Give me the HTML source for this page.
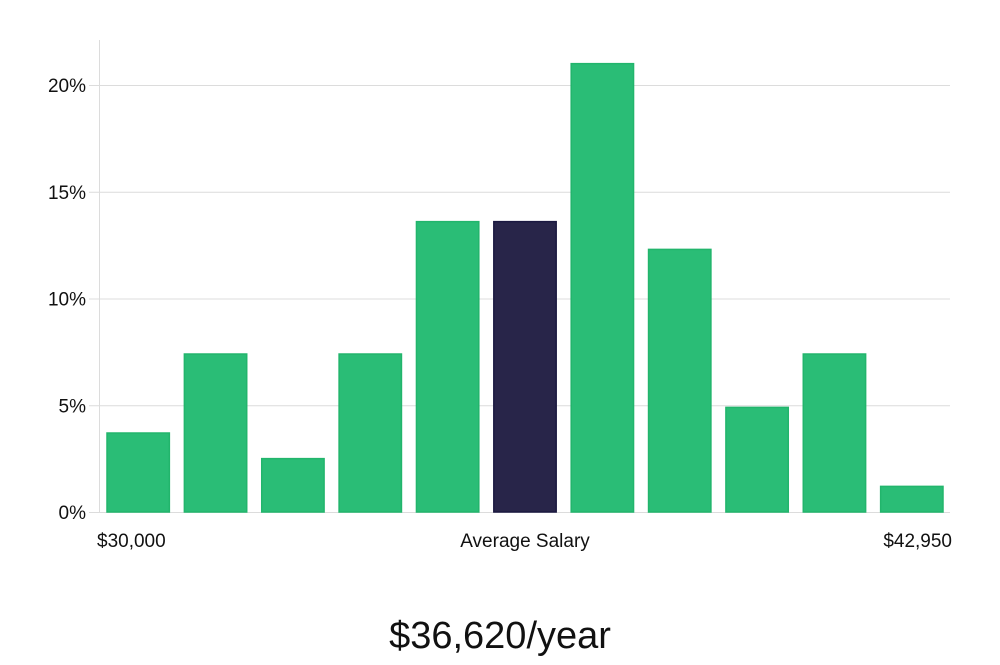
<!DOCTYPE html>
<html><head><meta charset="utf-8"><style>
body{margin:0;background:#fff;width:1000px;height:660px;overflow:hidden;font-family:"Liberation Sans",sans-serif}
svg text{font-family:"Liberation Sans",sans-serif}
</style></head><body>
<svg width="1000" height="660">
<g id="grid"></g>
<g id="bars"></g>
<g id="yt"></g>
<line x1="99.5" y1="40" x2="99.5" y2="512" stroke="#dcdcdc"/>
<text x="97" y="547" font-size="19" fill="#111">$30,000</text>
<text x="525" y="547" font-size="19" fill="#111" text-anchor="middle">Average Salary</text>
<text x="952" y="547" font-size="19" fill="#111" text-anchor="end">$42,950</text>
<text x="500" y="648" font-size="38" fill="#111" text-anchor="middle">$36,620/year</text>
</svg>
<script>
const categories=["b1","b2","b3","b4","b5","b6","b7","b8","b9","b10","b11"];
const values=[3.7,7.4,2.5,7.4,13.6,13.6,21.0,12.3,4.9,7.4,1.2];
const highlightIndex=5;
const yTicks=[0,5,10,15,20];
const yTickLabels=["0%","5%","10%","15%","20%"];
const NS="http://www.w3.org/2000/svg";
const x0=99,x1=950,yBase=512,yTop=85;
const y=v=>yBase-(v/20)*(yBase-yTop);
const step=(x1-x0)/categories.length;
const grid=document.getElementById('grid'),yt=document.getElementById('yt'),bars=document.getElementById('bars');
yTicks.forEach((t,i)=>{
 const l=document.createElementNS(NS,'line');
 
 
 l.setAttribute('x1',x0-10);l.setAttribute('x2',x1);
 l.setAttribute('y1',y(t)+0.5);l.setAttribute('y2',y(t)+0.5);
 l.setAttribute('stroke','#dcdcdc');grid.appendChild(l);
 const tx=document.createElementNS(NS,'text');
 
 
 tx.setAttribute('x',86);tx.setAttribute('y',y(t)+7);
 tx.setAttribute('text-anchor','end');tx.setAttribute('font-size','19');tx.setAttribute('fill','#111');
 tx.textContent=yTickLabels[i];yt.appendChild(tx);
});
values.forEach((v,i)=>{
 const r=document.createElementNS(NS,'rect');
 
 
 const bx=x0+i*step+8;
 r.setAttribute('x',bx);r.setAttribute('width',step-15);
 r.setAttribute('y',y(v));r.setAttribute('height',yBase-y(v));
 const hi=i===highlightIndex;
 r.setAttribute('fill',hi?'#282549':'#2abd76');
 r.setAttribute('stroke',hi?'#1a1840':'#22b56c');r.setAttribute('stroke-width','1.5');
 bars.appendChild(r);
});
</script>
</body></html>
